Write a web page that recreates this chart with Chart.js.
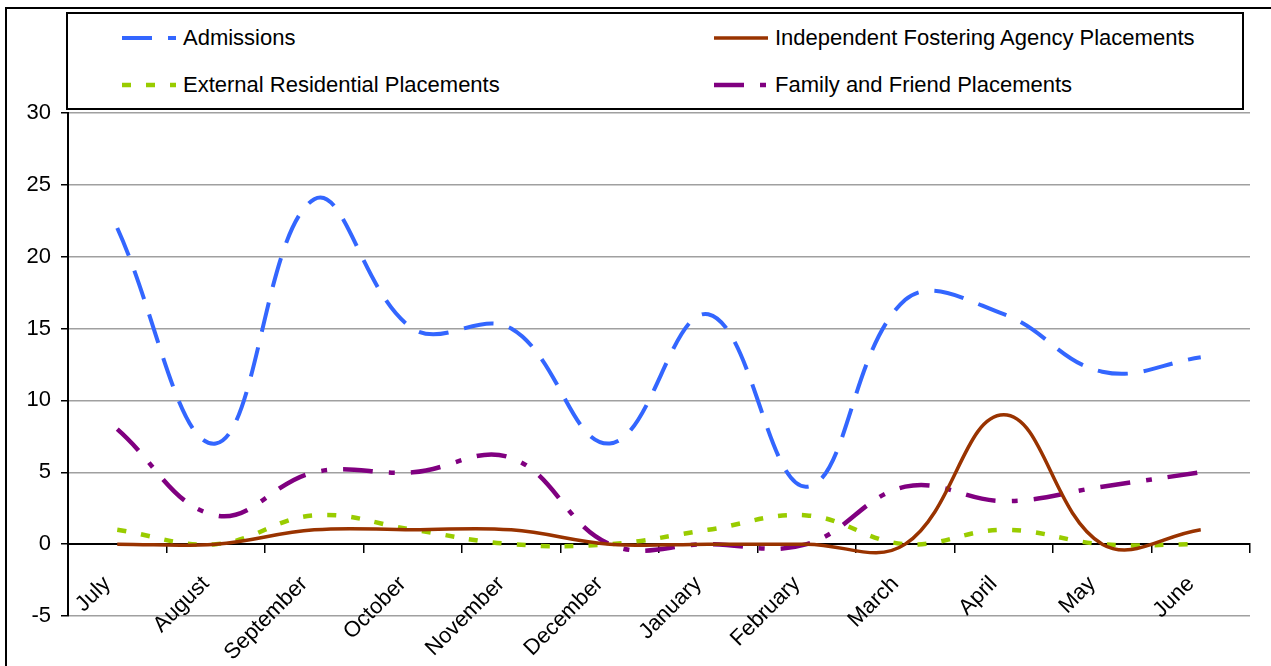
<!DOCTYPE html>
<html>
<head>
<meta charset="utf-8">
<script src="https://cdn.jsdelivr.net/npm/chart.js@4.4.1/dist/chart.umd.min.js"></script>
<style>
  body {
    margin: 0;
    width: 1271px;
    height: 666px;
    overflow: hidden;
    background: #fff;
    font-family: "Liberation Sans", Arial, sans-serif;
  }
  .frame {
    position: absolute;
    left: 5px;
    top: 7px;
    width: 1400px;
    height: 800px;
    border: 2px solid #000;
  }
  #chart {
    position: absolute;
    left: 0;
    top: 0;
  }
  .legend {
    position: absolute;
    left: 66px;
    top: 12px;
    width: 1174px;
    height: 94px;
    border: 2px solid #000;
    background: #fff;
  }
  .legend-item {
    position: absolute;
    display: flex;
    align-items: center;
    transform: translateY(-50%);
    font-size: 22px;
    color: #000;
    white-space: nowrap;
  }
  .legend-item canvas {
    margin-right: 7px;
  }
</style>
</head>
<body>
<div class="frame"></div>
<canvas id="chart" width="1271" height="666"></canvas>
<div class="legend" id="legend"></div>

<script>
// data
const months = ["July", "August", "September", "October", "November", "December",
  "January", "February", "March", "April", "May", "June"];
const admissions = [22, 7, 24, 15, 15, 7, 16, 4, 17, 16, 12, 13];
const fosteringAgency = [0, 0, 1, 1, 1, 0, 0, 0, 0, 9, 0, 1];
const externalResidential = [1, 0, 2, 1, 0, 0, 1, 2, 0, 1, 0, 0];
const familyFriend = [8, 2, 5, 5, 6, 0, 0, 0, 4, 3, 4, 5];
const yTicks = [-5, 0, 5, 10, 15, 20, 25, 30];

const fontFamily = '"Liberation Sans", Arial, sans-serif';

const chart = new Chart(document.getElementById("chart"), {
  type: "line",
  data: {
    labels: months,
    datasets: [
      {
        label: "Admissions",
        data: admissions,
        borderColor: "#3366ff",
        borderWidth: 4,
        borderDash: [30, 16],
      },
      {
        label: "Independent Fostering Agency Placements",
        data: fosteringAgency,
        borderColor: "#993300",
        borderWidth: 3.5,
        borderDash: [],
      },
      {
        label: "External Residential Placements",
        data: externalResidential,
        borderColor: "#99cc00",
        borderWidth: 4.5,
        borderDash: [9, 15],
      },
      {
        label: "Family and Friend Placements",
        data: familyFriend,
        borderColor: "#800080",
        borderWidth: 4.5,
        borderDash: [30, 16, 6, 16],
      },
    ],
  },
  options: {
    responsive: false,
    animation: false,
    layout: { padding: { left: 0, top: 113, right: 21, bottom: 50 } },
    elements: {
      point: { radius: 0 },
      line: { tension: 0.4, fill: false },
    },
    plugins: {
      legend: { display: false },
      tooltip: { enabled: false },
    },
    scales: {
      x: {
        position: { y: 0 },
        offset: true,
        grid: { drawOnChartArea: false, color: "#000", tickLength: 8, offset: true, lineWidth: 1.5 },
        border: { color: "#000", width: 2 },
        ticks: {
          color: "#000",
          font: { family: fontFamily, size: 22 },
          minRotation: 45,
          maxRotation: 45,
          autoSkip: false,
          padding: 19,
          labelOffset: -10,
        },
        afterFit: (scale) => {
          scale.height = 0;
        },
      },
      y: {
        min: yTicks[0],
        max: yTicks[yTicks.length - 1],
        afterBuildTicks: (scale) => {
          scale.ticks = yTicks.map((v) => ({ value: v }));
        },
        ticks: {
          color: "#000",
          font: { family: fontFamily, size: 22 },
          padding: 10,
        },
        grid: {
          color: (ctx) => (ctx.tick && ctx.tick.value === 0 ? "rgba(0,0,0,0)" : "#a0a0a0"),
          tickColor: "#000",
          tickLength: 7,
          lineWidth: 1.5,
        },
        border: { color: "#000", width: 2 },
        afterFit: (scale) => {
          scale.width = 68;
        },
      },
    },
  },
});

// LEGEND (two columns inside a box)
const legendBox = document.getElementById("legend");
const legendSpots = [[54, 24], [646, 24], [54, 71], [646, 71]];

chart.data.datasets.forEach((ds, i) => {
  const item = document.createElement("div");
  item.className = "legend-item";
  item.style.left = legendSpots[i][0] + "px";
  item.style.top = legendSpots[i][1] + "px";

  const sample = document.createElement("canvas");
  sample.width = 54;
  sample.height = 10;
  const c = sample.getContext("2d");
  c.strokeStyle = ds.borderColor;
  c.lineWidth = ds.borderWidth;
  c.setLineDash(ds.borderDash);
  c.beginPath();
  c.moveTo(0, 5);
  c.lineTo(54, 5);
  c.stroke();

  const text = document.createElement("span");
  text.textContent = ds.label;

  item.append(sample, text);
  legendBox.appendChild(item);
});
</script>
</body>
</html>
